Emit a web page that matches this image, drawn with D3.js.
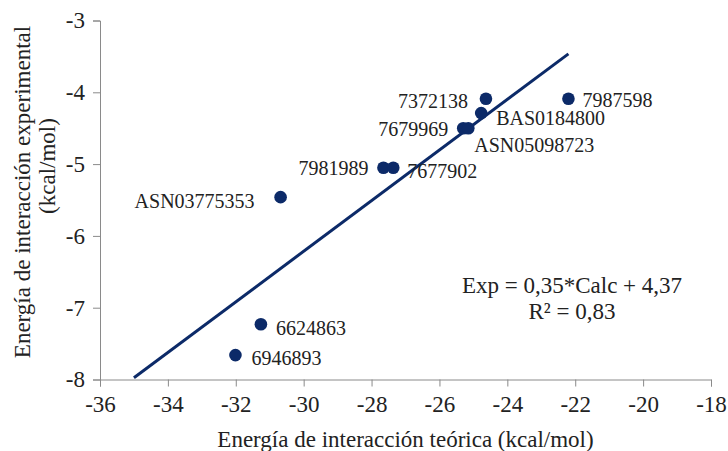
<!DOCTYPE html>
<html>
<head>
<meta charset="utf-8">
<script src="https://cdn.jsdelivr.net/npm/d3@7"></script>
<style>
  body { margin: 0; background: #fff; }
  svg text { font-family: "Liberation Serif", "Times New Roman", Times, "DejaVu Serif", serif; fill: #222; }
</style>
</head>
<body>
<script>
// data
var names = ["7987598", "7372138", "BAS0184800", "7679969", "ASN05098723",
             "7981989", "7677902", "ASN03775353", "6624863", "6946893"];
var calc = [-22.2, -24.63, -24.77, -25.3, -25.15, -27.65, -27.36, -30.68, -31.26, -32.01];
var expv = [-4.09, -4.09, -4.29, -4.5, -4.5, -5.05, -5.05, -5.46, -7.23, -7.66];
var xTicks = [-36, -34, -32, -30, -28, -26, -24, -22, -20, -18];
var yTicks = [-3, -4, -5, -6, -7, -8];
var trendStart = -35;
var eqText = ["Exp = 0,35*Calc + 4,37", "R\u00b2 = 0,83"];

function main() {
  var width = 728, height = 451;
  var margin = { top: 20.5, left: 100, right: 17, bottom: 71.5 };
  var navy = "#0c2a68";
  var axisColor = "#8a8a8a";
  var serif = '"Liberation Serif", "Times New Roman", Times, "DejaVu Serif", serif';

  var svg = d3.select("body").append("svg")
    .attr("width", width)
    .attr("height", height);

  var x = d3.scaleLinear().domain([-36, -18]).range([margin.left, width - margin.right]);
  var y = d3.scaleLinear().domain([-8, -3]).range([height - margin.bottom, margin.top]);

  // axes
  var xAxis = svg.append("g")
    .attr("transform", "translate(0," + y(-8) + ")")
    .call(d3.axisBottom(x).tickValues(xTicks).tickSize(7).tickPadding(9).tickFormat(d3.format("d")));
  var yAxis = svg.append("g")
    .attr("transform", "translate(" + x(-36) + ",0)")
    .call(d3.axisLeft(y).tickValues(yTicks).tickSize(7).tickPadding(8).tickFormat(d3.format("d")));

  [xAxis, yAxis].forEach(function (g) {
    g.attr("font-family", serif);
    g.select(".domain").attr("stroke", axisColor);
    g.selectAll(".tick line").attr("stroke", axisColor);
    g.selectAll("text")
      .attr("fill", "#222")
      .style("font-size", "23px")
      .text(function (d) { return String(d).replace("\u2212", "-"); });
  });
  xAxis.selectAll("text").attr("dy", "0.71em");

  // axis titles
  svg.append("text")
    .attr("x", (x(-36) + x(-18)) / 2)
    .attr("y", 439)
    .attr("dy", "0.35em")
    .attr("text-anchor", "middle")
    .style("font-size", "23px")
    .text("Energía de interacción teórica (kcal/mol)");

  svg.append("text")
    .attr("transform", "translate(22,192) rotate(-90)")
    .attr("dy", "0.35em")
    .attr("text-anchor", "middle")
    .style("font-size", "23px")
    .text("Energía de interacción experimental");
  svg.append("text")
    .attr("transform", "translate(47,166) rotate(-90)")
    .attr("dy", "0.35em")
    .attr("text-anchor", "middle")
    .style("font-size", "23px")
    .text("(kcal/mol)");

  // linear regression for the trendline
  var mx = d3.mean(calc), my = d3.mean(expv);
  var sxy = d3.sum(calc, function (c, i) { return (c - mx) * (expv[i] - my); });
  var sxx = d3.sum(calc, function (c) { return (c - mx) * (c - mx); });
  var slope = sxy / sxx, icpt = my - slope * mx;
  var lineX = [trendStart, d3.max(calc)];

  svg.append("path")
    .attr("d", d3.line()
      .x(function (d) { return x(d); })
      .y(function (d) { return y(slope * d + icpt); })(lineX))
    .attr("fill", "none")
    .attr("stroke", navy)
    .attr("stroke-width", 3);

  // points
  var pts = names.map(function (n, i) { return { name: n, cx: calc[i], cy: expv[i] }; });
  svg.selectAll("circle.pt")
    .data(pts)
    .enter()
    .append("circle")
    .attr("class", "pt")
    .attr("cx", function (d) { return x(d.cx); })
    .attr("cy", function (d) { return y(d.cy); })
    .attr("r", 6.3)
    .attr("fill", navy);

  // point labels: side and offset
  var labelPos = {
    "7987598": ["start", 14, 1],
    "7372138": ["end", -18, 2],
    "BAS0184800": ["start", 15, 5],
    "7679969": ["end", -15, 1],
    "ASN05098723": ["start", 6, 17],
    "7981989": ["end", -15, 0],
    "7677902": ["start", 14, 3],
    "ASN03775353": ["end", -26, 4],
    "6624863": ["start", 15, 4],
    "6946893": ["start", 16, 3]
  };
  svg.selectAll("text.lbl")
    .data(pts)
    .enter()
    .append("text")
    .attr("class", "lbl")
    .attr("x", function (d) { return x(d.cx) + labelPos[d.name][1]; })
    .attr("y", function (d) { return y(d.cy) + labelPos[d.name][2]; })
    .attr("dy", "0.35em")
    .attr("text-anchor", function (d) { return labelPos[d.name][0]; })
    .style("font-size", "20px")
    .text(function (d) { return d.name; });

  // equation
  svg.selectAll("text.eq")
    .data(eqText)
    .enter()
    .append("text")
    .attr("class", "eq")
    .attr("x", 572)
    .attr("y", function (d, i) { return 285 + i * 26; })
    .attr("dy", "0.35em")
    .attr("text-anchor", "middle")
    .style("font-size", "23px")
    .text(function (d) { return d; });
}
document.addEventListener("DOMContentLoaded", main);
</script>
</body>
</html>
